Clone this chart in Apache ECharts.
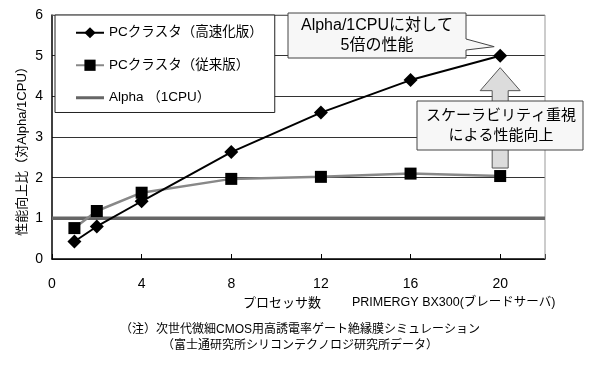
<!DOCTYPE html>
<html>
<head>
<meta charset="utf-8">
<script src="https://cdn.jsdelivr.net/npm/echarts@6/dist/echarts.min.js"></script>
<style>
  html, body { margin: 0; padding: 0; background: #fff; }
  #chart { width: 594px; height: 365px; }
</style>
</head>
<body>
<div id="chart"></div>
<script>
// processors
const procs = [1, 2, 4, 8, 12, 16, 20];
// speedup ratio vs Alpha/1CPU
const fastValues = [0.43, 0.8, 1.42, 2.63, 3.6, 4.4, 5.0];
const oldValues = [0.76, 1.18, 1.63, 1.97, 2.02, 2.1, 2.04];
const alphaValue = 1;
const xTicks = [0, 4, 8, 12, 16, 20];
const seriesNames = ['PCクラスタ（高速化版）', 'PCクラスタ（従来版）', 'Alpha （1CPU）'];

const FONT = '"Liberation Sans", "Noto Sans CJK JP", sans-serif';
const chart = echarts.init(document.getElementById('chart'));

chart.setOption({
  animation: false,
  textStyle: { fontFamily: FONT, color: '#000' },
  grid: { left: 52, right: 49, top: 15, bottom: 106 },
  legend: {
    orient: 'vertical',
    left: 55, top: 15,
    width: 207,
    padding: [11, 12, 8, 20],
    itemWidth: 28, itemHeight: 14, itemGap: 19,
    backgroundColor: '#fff',
    borderColor: '#222', borderWidth: 1,
    textStyle: { fontSize: 13.5, fontFamily: FONT, color: '#000' },
    data: [
      seriesNames[0],
      seriesNames[1],
      { name: seriesNames[2], icon: 'path://M0,0L28,0L28,3L0,3Z', itemStyle: { color: '#666' } }
    ]
  },
  xAxis: {
    type: 'value', min: 0, max: 22, interval: 4,
    axisLine: { lineStyle: { color: '#000', width: 1.5 } },
    axisTick: { show: true, inside: true, length: 5, lineStyle: { color: '#000' } },
    splitLine: { show: false },
    axisLabel: {
      margin: 18, fontSize: 14, color: '#000',
      formatter: v => xTicks.includes(v) ? String(v) : ''
    }
  },
  yAxis: {
    type: 'value', min: 0, max: 6, interval: 1,
    axisLine: { show: true, lineStyle: { color: '#000', width: 1.5 } },
    axisTick: { show: false },
    splitLine: { show: true, lineStyle: { color: '#333', width: 1 } },
    axisLabel: { margin: 9, fontSize: 14, color: '#000' }
  },
  series: [
    {
      name: seriesNames[0], type: 'line', z: 4,
      data: procs.map((p, i) => [p, fastValues[i]]),
      symbol: 'diamond', symbolSize: 14,
      itemStyle: { color: '#000' },
      lineStyle: { color: '#000', width: 2 }
    },
    {
      name: seriesNames[1], type: 'line', z: 3,
      data: procs.map((p, i) => [p, oldValues[i]]),
      symbol: 'rect', symbolSize: 12,
      itemStyle: { color: '#000' },
      lineStyle: { color: '#888', width: 2.5 }
    },
    {
      name: seriesNames[2], type: 'line', z: 2,
      data: [[0, alphaValue], [22, alphaValue]],
      showSymbol: false, symbol: 'none',
      itemStyle: { color: '#666' },
      lineStyle: { color: '#666', width: 3.5 }
    }
  ]
});

// annotations placed from data positions
const tipPt = chart.convertToPixel({ gridIndex: 0 }, [20, fastValues[6]]);
const basePt = chart.convertToPixel({ gridIndex: 0 }, [20, oldValues[6]]);
const corner = chart.convertToPixel({ gridIndex: 0 }, [22, 0]);
const topLeft = chart.convertToPixel({ gridIndex: 0 }, [0, 6]);

const ax = tipPt[0];
const headTop = tipPt[1] + 12, headBase = tipPt[1] + 35, shaftBottom = basePt[1] - 8;

chart.setOption({
  graphic: [
    // plot border (top / right)
    { type: 'polyline', z: 1, silent: true,
      shape: { points: [[topLeft[0], topLeft[1]], [corner[0], topLeft[1]], [corner[0], corner[1]]] },
      style: { stroke: '#999', lineWidth: 1, fill: null } },
    // block arrow
    { type: 'polygon', z: 10, silent: true,
      shape: { points: [
        [ax, headTop], [ax + 20, headBase], [ax + 8, headBase], [ax + 8, shaftBottom],
        [ax - 8, shaftBottom], [ax - 8, headBase], [ax - 20, headBase]
      ] },
      style: { fill: '#dcdcdc', stroke: '#555', lineWidth: 1 } },
    // callout 1 with pointer
    { type: 'polygon', z: 11, silent: true,
      shape: { points: [
        [288, 13], [466, 13], [466, 39], [ax - 6, tipPt[1] - 9], [466, 50], [466, 58], [288, 58]
      ] },
      style: { fill: '#f7f7f7', stroke: '#444', lineWidth: 1 } },
    { type: 'text', z: 12, silent: true, x: 377, y: 36,
      style: { text: 'Alpha/1CPUに対して\n5倍の性能', font: '16px ' + FONT,
        fill: '#000', align: 'center', verticalAlign: 'middle', lineHeight: 20 } },
    // callout 2
    { type: 'rect', z: 11, silent: true,
      shape: { x: 417, y: 101, width: 166, height: 49 },
      style: { fill: '#f7f7f7', stroke: '#444', lineWidth: 1 } },
    { type: 'text', z: 12, silent: true, x: 501, y: 126,
      style: { text: 'スケーラビリティ重視\nによる性能向上', font: '15px ' + FONT,
        fill: '#000', align: 'center', verticalAlign: 'middle', lineHeight: 20 } },
    // axis titles
    { type: 'text', silent: true, x: 22, y: 148, rotation: Math.PI / 2,
      style: { text: '性能向上比（対Alpha/1CPU）', font: '13px ' + FONT,
        fill: '#000', align: 'center', verticalAlign: 'middle' } },
    { type: 'text', silent: true, x: 282, y: 303,
      style: { text: 'プロセッサ数', font: '13px ' + FONT,
        fill: '#000', align: 'center', verticalAlign: 'middle' } },
    { type: 'text', silent: true, x: 352, y: 303,
      style: { text: 'PRIMERGY BX300(ブレードサーバ)', font: '12.5px ' + FONT,
        fill: '#000', align: 'left', verticalAlign: 'middle' } },
    // footnote
    { type: 'text', silent: true, x: 300, y: 330,
      style: { text: '（注）次世代微細CMOS用高誘電率ゲート絶縁膜シミュレーション', font: '12px ' + FONT,
        fill: '#000', align: 'center', verticalAlign: 'middle' } },
    { type: 'text', silent: true, x: 300, y: 346,
      style: { text: '（富士通研究所シリコンテクノロジ研究所データ）', font: '12px ' + FONT,
        fill: '#000', align: 'center', verticalAlign: 'middle' } }
  ]
});
</script>
</body>
</html>
